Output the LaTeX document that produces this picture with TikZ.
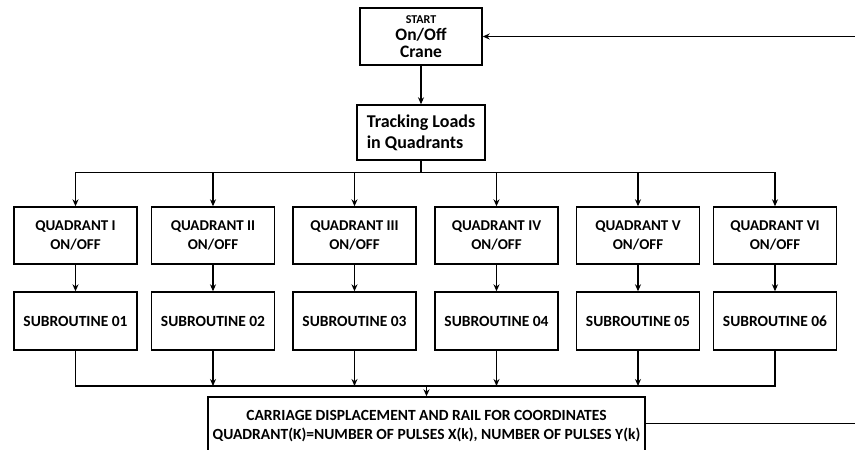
\documentclass[tikz,border=0pt]{standalone}
\usepackage{fontspec}
\setmainfont{Carlito}
\usetikzlibrary{arrows.meta,calc}
\begin{document}
\begin{tikzpicture}[x=1pt,y=-1pt,
  box/.style={draw,line width=1.4pt,fill=white,align=center,font=\bfseries,inner sep=2pt},
  qbox/.style={box,minimum width=123pt,minimum height=57pt,font=\bfseries\fontsize{15}{19.5}\selectfont},
  sbox/.style={box,minimum width=123pt,minimum height=58pt,font=\bfseries\fontsize{15.5}{18}\selectfont},
  wire/.style={line width=1.4pt},
  arr/.style={wire,-{Stealth[length=7pt,width=6pt]}}]
\useasboundingbox (0,0) rectangle (855,450);
\clip (0,0) rectangle (855,450);
% top boxes
\node[box,minimum width=122pt,minimum height=57pt,font=\bfseries\fontsize{17.5}{17}\selectfont] (start) at (421,36.5)
  {{\fontsize{12}{12}\selectfont START}\\On/Off\\Crane};
\node[box,minimum width=128pt,minimum height=55pt,align=left,font=\bfseries\fontsize{18}{21}\selectfont] (track) at (421,132.5)
  {Tracking Loads\\in Quadrants};
% quadrant boxes
\foreach \i/\x/\r in {1/75.5/I,2/213/II,3/354.5/III,4/496.5/IV,5/638/V,6/775/VI}{
  \node[qbox] (q\i) at (\x,235.5) {QUADRANT \r\\ON/OFF};
  \node[sbox] (s\i) at (\x,321) {SUBROUTINE 0\i};
  \draw[arr] (q\i.south) -- (s\i.south |- s\i.north);
}
% carriage box
\node[draw,line width=1.4pt,minimum width=437pt,minimum height=60pt] (carr) at (426.5,427) {};
\node[align=center,font=\bfseries\fontsize{15.5}{19.5}\selectfont,inner sep=0pt] (carrtxt) at (426.5,426)
  {CARRIAGE DISPLACEMENT AND RAIL FOR COORDINATES\\QUADRANT(K)=NUMBER OF PULSES X(k), NUMBER OF PULSES Y(k)};
% connectors
\draw[arr] (start.south) -- (track.north);
\draw[wire] (track.south) -- ++(0,11.5) coordinate (bus1);
\draw[wire] (q1.north |- bus1) -- (q6.north |- bus1);
\foreach \i in {1,...,6}{ \draw[arr] (q\i.north |- bus1) -- (q\i.north); }
\coordinate (bus2) at (0,386);
\draw[wire] (s1.south) -- (s1.south |- bus2) -- (s6.south |- bus2) -- (s6.south);
\foreach \i in {2,...,5}{ \draw[arr] (s\i.south) -- (s\i.south |- bus2); }
\draw[arr] (carr.north |- bus2) -- (carr.north);
\draw[arr] ($(carr.north east)+(0,27)$) -- ++(260,0) |- (start.east);
\end{tikzpicture}
\end{document}
